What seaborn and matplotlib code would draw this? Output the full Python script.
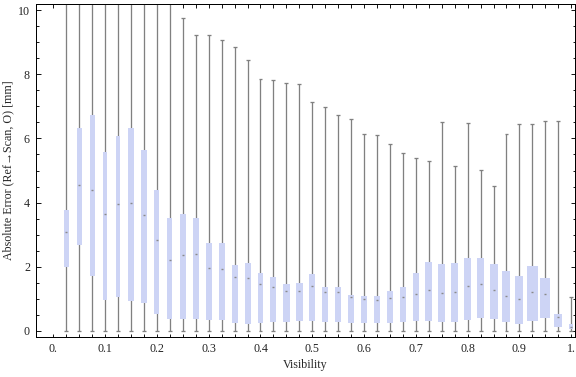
import numpy as np
import pandas as pd
import matplotlib
matplotlib.use("Agg")
import matplotlib.pyplot as plt
import seaborn as sns

# bin centres of the visibility axis
visibility = [0.025, 0.05, 0.075, 0.1, 0.125, 0.15, 0.175, 0.2, 0.225, 0.25,
              0.275, 0.3, 0.325, 0.35, 0.375, 0.4, 0.425, 0.45, 0.475, 0.5,
              0.525, 0.55, 0.575, 0.6, 0.625, 0.65, 0.675, 0.7, 0.725, 0.75,
              0.775, 0.8, 0.825, 0.85, 0.875, 0.9, 0.925, 0.95, 0.975, 1.0]

# box statistics [mm]
whisker_low = [0.0] * 40
whisker_high = [11.0, 11.0, 11.0, 11.0, 11.0, 11.0, 11.0, 11.0, 11.0, 9.76,
                9.23, 9.23, 9.07, 8.85, 8.44, 7.85, 7.82, 7.72, 7.69, 7.13,
                6.97, 6.72, 6.60, 6.13, 6.10, 5.82, 5.54, 5.38, 5.29, 6.51,
                5.13, 6.48, 5.01, 4.51, 6.13, 6.44, 6.44, 6.54, 6.54, 1.05]
q1 = [2.00, 2.68, 1.71, 0.94, 1.04, 0.93, 0.87, 0.53, 0.36, 0.37,
      0.37, 0.34, 0.34, 0.24, 0.21, 0.24, 0.28, 0.28, 0.31, 0.31,
      0.28, 0.28, 0.24, 0.24, 0.24, 0.24, 0.28, 0.31, 0.31, 0.28,
      0.28, 0.34, 0.40, 0.37, 0.28, 0.21, 0.31, 0.40, 0.12, 0.05]
median = [3.07, 4.55, 4.38, 3.63, 3.96, 4.00, 3.61, 2.82, 2.20, 2.36,
          2.38, 1.97, 1.91, 1.66, 1.63, 1.46, 1.37, 1.24, 1.24, 1.38,
          1.20, 1.21, 1.04, 0.99, 0.97, 1.02, 1.05, 1.14, 1.26, 1.18,
          1.19, 1.38, 1.44, 1.27, 1.08, 0.98, 1.22, 1.13, 0.44, 0.12]
q3 = [3.77, 6.33, 6.73, 5.57, 6.08, 6.33, 5.64, 4.40, 3.53, 3.65,
      3.52, 2.74, 2.74, 2.05, 2.12, 1.81, 1.68, 1.46, 1.49, 1.77,
      1.36, 1.36, 1.11, 1.08, 1.08, 1.24, 1.36, 1.81, 2.15, 2.09,
      2.12, 2.27, 2.27, 2.09, 1.87, 1.70, 2.03, 1.65, 0.53, 0.20]
# relative box width (fraction of the bin spacing)
rel_width = [0.39, 0.36, 0.39, 0.26, 0.31, 0.41, 0.41, 0.39, 0.39, 0.46,
             0.49, 0.49, 0.46, 0.46, 0.46, 0.46, 0.46, 0.54, 0.54, 0.46,
             0.46, 0.46, 0.46, 0.46, 0.46, 0.46, 0.46, 0.46, 0.54, 0.54,
             0.54, 0.54, 0.54, 0.62, 0.62, 0.62, 0.85, 0.77, 0.62, 0.31]

x_labels = ["0.", "0.1", "0.2", "0.3", "0.4", "0.5", "0.6", "0.7", "0.8", "0.9", "1."]

df = pd.DataFrame({"vis": visibility, "lo": whisker_low, "hi": whisker_high,
                   "q1": q1, "med": median, "q3": q3, "w": rel_width})

sns.set_style("ticks")
plt.rcParams["font.family"] = ["Liberation Serif", "DejaVu Serif"]
plt.rcParams["font.size"] = 12

box_color = "#cdd4f5"
line_color = "#808080"
step = 0.025

fig = plt.figure(figsize=(8, 377 / 72), dpi=72)
ax = fig.add_axes([36 / 576, 40 / 377, 539 / 576, 333 / 377])

# whiskers and caps
ax.vlines(df.vis, df.lo, df.hi, color=line_color, lw=1.3, zorder=1)
cap = 0.0038
ax.hlines(df.hi, df.vis - cap, df.vis + cap, color=line_color, lw=1.3, zorder=1)
ax.hlines(df.lo, df.vis - cap, df.vis + cap, color=line_color, lw=1.3, zorder=1)

# boxes
ax.bar(df.vis, df.q3 - df.q1, bottom=df.q1, width=df.w * step,
       color=box_color, edgecolor="none", zorder=2)

# medians
sns.scatterplot(data=df, x="vis", y="med", marker="_", s=5, color="#8a8a8a",
                linewidth=1.4, ax=ax, zorder=3)

ax.set_xlim(-0.0335, 1.0073)
ax.set_ylim(-0.2, 10.2)

ax.set_xticks(np.arange(0, 1.0001, 0.1))
ax.set_xticklabels(x_labels)
ax.set_xticks(np.arange(0, 1.0001, 0.025), minor=True)
ax.set_yticks(np.arange(0, 10.01, 2))
ax.set_yticks(np.arange(0, 10.01, 0.5), minor=True)

ax.tick_params(which="both", direction="in", top=True, right=True, color="black",
               width=0.9, labelsize=12, pad=6)
ax.tick_params(axis="x", which="both", length=3.5)
ax.tick_params(axis="y", which="major", length=4.5)
ax.tick_params(axis="y", which="minor", length=2.5)
for s in ax.spines.values():
    s.set_color("black")
    s.set_linewidth(1.0)

ax.set_xlabel("Visibility", fontsize=12, labelpad=4)
ax.set_ylabel("Absolute Error (Ref\u2192Scan, O) [mm]", fontsize=12, labelpad=4)

fig.savefig("out.png", dpi=72)
